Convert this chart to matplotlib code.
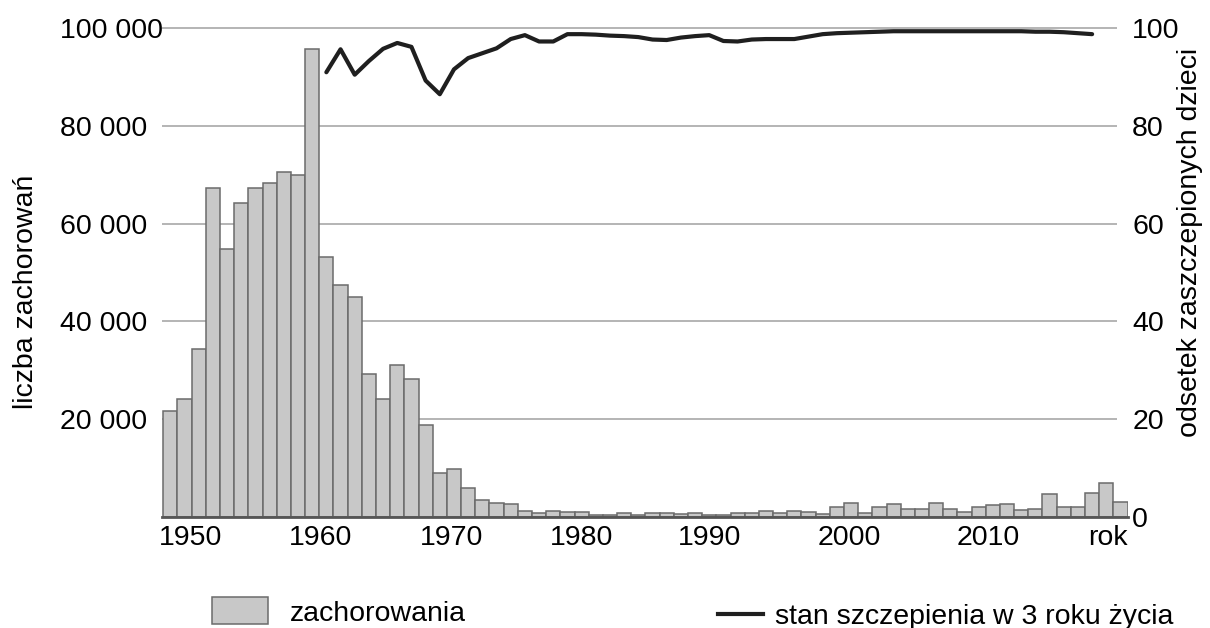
import matplotlib
matplotlib.use("Agg")
import matplotlib.pyplot as plt
from matplotlib.patches import Patch
from matplotlib.lines import Line2D

plt.rcParams["font.family"] = ["Liberation Sans", "DejaVu Sans"]
plt.rcParams["font.size"] = 20.5

# zachorowania (liczba przypadków), lata 1950-2017
years = list(range(1950, 2018))
cases = [21600, 24100, 34300, 67400, 54800, 64200, 67400, 68300, 70600, 70000,
         95700, 53100, 47400, 45000, 29300, 24100, 31100, 28200, 18800, 8900,
         9800, 5900, 3400, 2900, 2600, 1200, 800, 1200, 1000, 1000,
         400, 400, 800, 400, 700, 700, 500, 700, 400, 400,
         700, 800, 1100, 700, 1100, 1000, 550, 1900, 2900, 700,
         1900, 2600, 1500, 1500, 2900, 1500, 900, 1900, 2300, 2700,
         1300, 1500, 4600, 1900, 1900, 4900, 6800, 3000]

# stan szczepienia w 3 roku zycia (%), lata 1961-2015
vacc_years = list(range(1961, 2016))
vacc_pct = [91.0, 95.7, 90.5, 93.3, 95.8, 97.0, 96.2, 89.3, 86.5, 91.6,
            93.9, 94.9, 95.9, 97.8, 98.6, 97.3, 97.3, 98.8, 98.8, 98.7,
            98.5, 98.4, 98.2, 97.7, 97.6, 98.1, 98.4, 98.6, 97.4, 97.3,
            97.7, 97.8, 97.8, 97.8, 98.3, 98.8, 99.0, 99.1, 99.2, 99.3,
            99.4, 99.4, 99.4, 99.4, 99.4, 99.4, 99.4, 99.4, 99.4, 99.4,
            99.3, 99.3, 99.2, 99.0, 98.8]

left_ticks = [20000, 40000, 60000, 80000, 100000]
left_labels = ["20 000", "40 000", "60 000", "80 000", "100 000"]
right_ticks = [0, 20, 40, 60, 80, 100]
x_labels = ["1950", "1960", "1970", "1980", "1990", "2000", "2010", "rok"]
x_label_pos = [1951.4, 1960.6, 1969.8, 1979.0, 1988.0, 1997.9, 2007.7, 2016.1]

W, H = 1210, 628
fig = plt.figure(figsize=(W / 100, H / 100), dpi=100)
ax = fig.add_axes([162 / W, 111.3 / H, 966 / W, 488.4 / H])

bars = ax.bar(years, cases, width=1.0, color="#c8c8c8", edgecolor="#6b6b6b",
              linewidth=1.1, zorder=2)
ax.set_xlim(1949.41, 2017.53)
ax.set_ylim(0, 100000)
ax.hlines(left_ticks, 1949.41, 2016.75, colors="#a8a8a8", linewidth=1.2,
          zorder=1, clip_on=False)

for s in ["top", "left", "right"]:
    ax.spines[s].set_visible(False)
ax.spines["bottom"].set_color("#555555")
ax.spines["bottom"].set_linewidth(2)

ax.set_yticks(left_ticks, left_labels)
ax.tick_params(axis="y", length=0, pad=73.4)
for t in ax.get_yticklabels():
    t.set_horizontalalignment("left")
ax.set_xticks(x_label_pos, x_labels)
ax.tick_params(axis="x", length=0, pad=6)

ax.set_ylabel("liczba zachorowań")
ax.yaxis.set_label_coords(-0.1273, 0.46)

ax2 = ax.twinx()
line, = ax2.plot(vacc_years, vacc_pct, color="#1f1f1f", lw=3,
                 solid_joinstyle="round", solid_capstyle="round")
ax2.set_ylim(0, 100)
ax2.set_yticks(right_ticks)
ax2.tick_params(axis="y", length=0, pad=3)
for s in ax2.spines.values():
    s.set_visible(False)
ax2.set_ylabel("odsetek zaszczepionych dzieci")
ax2.yaxis.set_label_coords(1.0507, 0.5625)

h1 = Patch(facecolor="#c8c8c8", edgecolor="#6b6b6b", linewidth=1.1)
h2 = Line2D([0], [0], color="#1f1f1f", lw=3)
fig.legend([h1], ["zachorowania"], loc="center left",
           bbox_to_anchor=(212 / W, 16 / H), frameon=False, borderpad=0,
           borderaxespad=0, handlelength=1.97, handleheight=1.06,
           handletextpad=0.77)
fig.legend([h2], ["stan szczepienia w 3 roku życia"], loc="center left",
           bbox_to_anchor=(718 / W, 11 / H), frameon=False, borderpad=0,
           borderaxespad=0, handlelength=1.58, handletextpad=0.42)

fig.savefig("out.png", dpi=100)
